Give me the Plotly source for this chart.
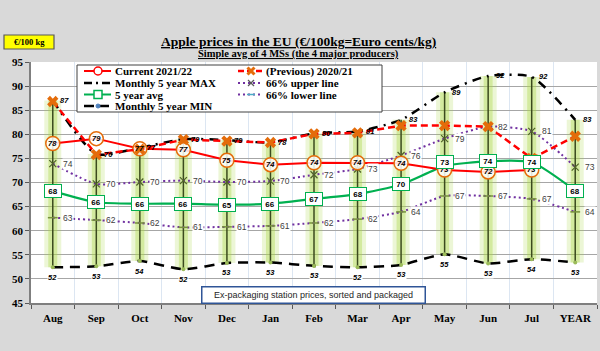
import plotly.graph_objects as go

# ---------------- data ----------------
months = ["Aug", "Sep", "Oct", "Nov", "Dec", "Jan", "Feb", "Mar", "Apr", "May", "Jun", "Jul", "YEAR"]
current_2122 = [78.1, 79.1, 77.0, 76.8, 74.6, 73.7, 74.1, 74.1, 74.0, 72.6, 72.2, 72.6, None]
previous_2021 = [86.8, 75.8, 76.9, 78.9, 78.6, 78.3, 80.1, 80.3, 81.8, 81.8, 81.6, 75.0, 79.6]
max_5y = [87.0, 75.9, 77.2, 79.0, 78.8, 78.3, 80.2, 80.6, 83.0, 88.7, 92.1, 91.9, 83.0]
min_5y = [52.4, 52.6, 53.7, 52.0, 53.3, 53.4, 52.7, 52.4, 52.9, 55.1, 53.2, 54.1, 53.4]
avg_5y = [68.2, 65.9, 65.6, 65.6, 65.4, 65.6, 66.6, 67.6, 69.6, 73.4, 74.4, 74.2, 68.3]
upper_66 = [73.9, 69.7, 70.1, 70.4, 70.1, 70.3, 71.6, 72.8, 75.6, 79.1, 81.6, 80.6, 73.2]
lower_66 = [62.7, 62.2, 61.6, 60.7, 60.8, 61.0, 61.6, 62.4, 63.9, 67.2, 67.2, 66.6, 63.9]

title = "Apple prices in the EU (€/100kg=Euro cents/kg)"
subtitle = "Simple avg of 4 MSs (the 4 major producers)"
unit_badge = "€/100 kg"
footnote = "Ex-packaging station prices, sorted and packaged"
legend_names = ["Current 2021/22", "(Previous) 2020/21", "Monthly 5 year MAX", "66% upper line",
                "5 year avg", "66% lower line", "Monthly 5 year MIN"]

# ---------------- layout geometry ----------------
W, H = 600, 351
L, R, T, B = 31, 3, 62, 48
PW, PH = W - L - R, H - T - B


def PX(px):
    return (px - L) / PW


def PY(py):
    return (H - B - py) / PH


SERIF = "Liberation Serif"
SANS = "Liberation Sans"

fig = go.Figure()

# high-low lines (min to max) with glow
hx, hy = [], []
for m, lo, hi in zip(months, min_5y, max_5y):
    hx += [m, m, None]
    hy += [lo, hi, None]
fig.add_trace(go.Scatter(x=hx, y=hy, mode="lines", line=dict(color="rgba(170,215,70,0.22)", width=17),
                         hoverinfo="skip", showlegend=False))
fig.add_trace(go.Scatter(x=hx, y=hy, mode="lines", line=dict(color="rgba(170,215,70,0.38)", width=9),
                         hoverinfo="skip", showlegend=False))
fig.add_trace(go.Scatter(x=hx, y=hy, mode="lines", line=dict(color="#3b4a1e", width=1.5),
                         hoverinfo="skip", showlegend=False))

# min
fig.add_trace(go.Scatter(x=months, y=min_5y, mode="lines+markers", showlegend=False,
                         line=dict(color="black", width=2.5, dash="10px,7px", shape="spline", smoothing=0.6),
                         marker=dict(size=4, color="#9bbb59")))
# max
fig.add_trace(go.Scatter(x=months, y=max_5y, mode="lines", showlegend=False,
                         line=dict(color="black", width=2.5, dash="9px,6px,2px,6px", shape="spline", smoothing=0.6)))
# 66% lower
fig.add_trace(go.Scatter(x=months, y=lower_66, mode="lines+markers", showlegend=False,
                         line=dict(color="#7030a0", width=2, dash="2px,3px", shape="spline", smoothing=0.6),
                         marker=dict(symbol="line-ew", size=7, line=dict(color="#76923c", width=1.5))))
# 66% upper
fig.add_trace(go.Scatter(x=months, y=upper_66, mode="lines+markers", showlegend=False,
                         line=dict(color="#7030a0", width=2, dash="2px,3px", shape="spline", smoothing=0.6),
                         marker=dict(symbol="x-thin", size=7, line=dict(color="#4f6228", width=1.2))))
# 5 year avg
fig.add_trace(go.Scatter(x=months, y=avg_5y, mode="lines", showlegend=False,
                         line=dict(color="#00b050", width=2.2, shape="spline", smoothing=0.6)))
# current
fig.add_trace(go.Scatter(x=months, y=current_2122, mode="lines+markers", showlegend=False,
                         line=dict(color="#ff0000", width=2),
                         marker=dict(symbol="circle", size=14, color="rgba(255,255,255,0.85)",
                                     line=dict(color="#e46c0a", width=1.5))))
# previous
fig.add_trace(go.Scatter(x=months, y=previous_2021, mode="lines+markers", showlegend=False,
                         line=dict(color="#ff0000", width=2.5, dash="7px,4px"),
                         marker=dict(symbol="x", size=10, color="#e46c0a", line=dict(width=0))))

ann = []


def fmt(v):
    return f"{v:.0f}"


for m, v in zip(months, current_2122):
    if v is None:
        continue
    ann.append(dict(x=m, y=v, text=f"<b><i>{fmt(v)}</i></b>", showarrow=False,
                    font=dict(family=SANS, size=7.5, color="black")))
for m, v, c in zip(months, avg_5y, current_2122):
    shift = 4 if (c is not None and abs(v - c) < 1.2) else 0
    ann.append(dict(x=m, y=v, text=f"<b>{fmt(v)}</b>", showarrow=False, width=14, height=10, yshift=shift,
                    bgcolor="white", bordercolor="#00b050", borderwidth=1, borderpad=1,
                    font=dict(family=SANS, size=8, color="black")))
for m, v in zip(months, max_5y):
    ann.append(dict(x=m, y=v, text=f"<b><i>{fmt(v)}</i></b>", showarrow=False, xshift=12,
                    font=dict(family=SANS, size=7.5, color="black")))
for m, v in zip(months, min_5y):
    ann.append(dict(x=m, y=v, text=f"<b><i>{fmt(v)}</i></b>", showarrow=False, yshift=-10,
                    bgcolor="white", borderpad=0,
                    font=dict(family=SANS, size=7.5, color="black")))
for arr in (upper_66, lower_66):
    for m, v in zip(months, arr):
        ann.append(dict(x=m, y=v, text=fmt(v), showarrow=False, xshift=15,
                        bgcolor="white", borderpad=0,
                        font=dict(family=SANS, size=8.5, color="#404040")))


def paper_text(px, py, text, font, **kw):
    d = dict(xref="paper", yref="paper", x=PX(px), y=PY(py), text=text, showarrow=False,
             xanchor="center", yanchor="middle", font=font)
    d.update(kw)
    ann.append(d)


# titles
paper_text(298, 41, f"<b><u>{title}</u></b>", dict(family=SERIF, size=13.5, color="black"))
paper_text(298, 54, f"<b><u>{subtitle}</u></b>", dict(family=SERIF, size=10.5, color="black"))
# badge text
paper_text(29, 42, f"<b>{unit_badge}</b>", dict(family=SERIF, size=8.5, color="black"))
# footnote box
paper_text(313, 294.5, footnote, dict(family=SANS, size=9, color="#262626"),
           width=220, height=13, bgcolor="white", bordercolor="#2f5597", borderwidth=1.5, borderpad=1)

shapes = []
# badge
shapes.append(dict(type="rect", xref="paper", yref="paper", x0=PX(4), x1=PX(54), y0=PY(49), y1=PY(35),
                   fillcolor="#ffff00", line=dict(color="#595959", width=1.2), layer="above"))
# legend box
shapes.append(dict(type="rect", xref="paper", yref="paper", x0=PX(77), x1=PX(382), y0=PY(112), y1=PY(65),
                   fillcolor="white", line=dict(color="#404040", width=1), layer="above"))

rows = [71, 83, 94.5, 106]
col = [(84, 111, 98, 113), (238, 263, 251, 264)]


def seg(x0, x1, y, color, width, dash="solid"):
    shapes.append(dict(type="line", xref="paper", yref="paper", x0=PX(x0), x1=PX(x1), y0=PY(y), y1=PY(y),
                       line=dict(color=color, width=width, dash=dash), layer="above"))


def xmark(cx, cy, r, color, width):
    for s in (1, -1):
        shapes.append(dict(type="line", xref="paper", yref="paper", x0=PX(cx - r), x1=PX(cx + r),
                           y0=PY(cy - s * r), y1=PY(cy + s * r), line=dict(color=color, width=width),
                           layer="above"))


# row 1 col 1 current
x0, x1, cx, tx = col[0]
seg(x0, x1, rows[0], "#ff0000", 2)
shapes.append(dict(type="circle", xref="paper", yref="paper", x0=PX(cx - 4), x1=PX(cx + 4),
                   y0=PY(rows[0] + 4), y1=PY(rows[0] - 4), fillcolor="white",
                   line=dict(color="#ff0000", width=1.5), layer="above"))
# row 2 col 1 max
seg(x0, x1, rows[1], "black", 2.5, "8px,4px,2px,4px")
# row 3 col 1 avg
seg(x0, x1, rows[2], "#00b050", 2)
shapes.append(dict(type="rect", xref="paper", yref="paper", x0=PX(cx - 4), x1=PX(cx + 4),
                   y0=PY(rows[2] + 4), y1=PY(rows[2] - 4), fillcolor="white",
                   line=dict(color="#00b050", width=1.5), layer="above"))
# row 4 col 1 min
seg(x0, x1, rows[3], "black", 2.5, "10px,5px")
shapes.append(dict(type="circle", xref="paper", yref="paper", x0=PX(cx - 2), x1=PX(cx + 2),
                   y0=PY(rows[3] + 2), y1=PY(rows[3] - 2), fillcolor="#4f81bd",
                   line=dict(color="#4f81bd", width=1), layer="above"))
# col 2
x0, x1, cx2, tx2 = col[1]
seg(x0, x1, rows[0], "#ff0000", 2.5, "6px,3px")
xmark(cx2, rows[0], 3.5, "#e46c0a", 3)
seg(x0, x1, rows[1], "#7030a0", 2, "2px,3px")
xmark(cx2, rows[1], 3, "#595959", 1.2)
seg(x0, x1, rows[2], "#7030a0", 2, "2px,3px")
seg(cx2 - 4, cx2 + 4, rows[2], "#4bacc6", 1.5)

leg_pos = [(tx, rows[0]), (tx2, rows[0]), (tx, rows[1]), (tx2, rows[1]), (tx, rows[2]), (tx2, rows[2]),
           (tx, rows[3])]
for name, (lx, ly) in zip(legend_names, leg_pos):
    ann.append(dict(xref="paper", yref="paper", x=PX(lx), y=PY(ly), xanchor="left", yanchor="middle",
                    text=f"<b>{name}</b>", showarrow=False,
                    font=dict(family=SERIF, size=11, color="black")))

fig.update_layout(
    width=W, height=H,
    margin=dict(l=L, r=R, t=T, b=B, pad=0),
    paper_bgcolor="#d9d9d9", plot_bgcolor="white",
    showlegend=False,
    annotations=ann, shapes=shapes,
    xaxis=dict(type="category", categoryorder="array", categoryarray=months, range=[-0.5, 12.5],
               tickson="boundaries", ticks="outside", ticklen=4, tickcolor="#595959",
               ticklabelstandoff=4,
               showgrid=True, gridcolor="#dce6f2", gridwidth=1,
               showline=True, linecolor="#7f7f7f", linewidth=1.5, mirror=False,
               tickfont=dict(family=SERIF, size=11, color="black", weight="bold"), fixedrange=True),
    yaxis=dict(range=[45, 95], dtick=5, tick0=45, ticks="outside", ticklen=4, tickcolor="#595959",
               showgrid=True, gridcolor="#a6a6a6", gridwidth=1, zeroline=False,
               showline=True, linecolor="#7f7f7f", linewidth=1.5,
               tickfont=dict(family=SERIF, size=11, color="black", weight="bold"), fixedrange=True),
)

fig.write_html("out.html")
